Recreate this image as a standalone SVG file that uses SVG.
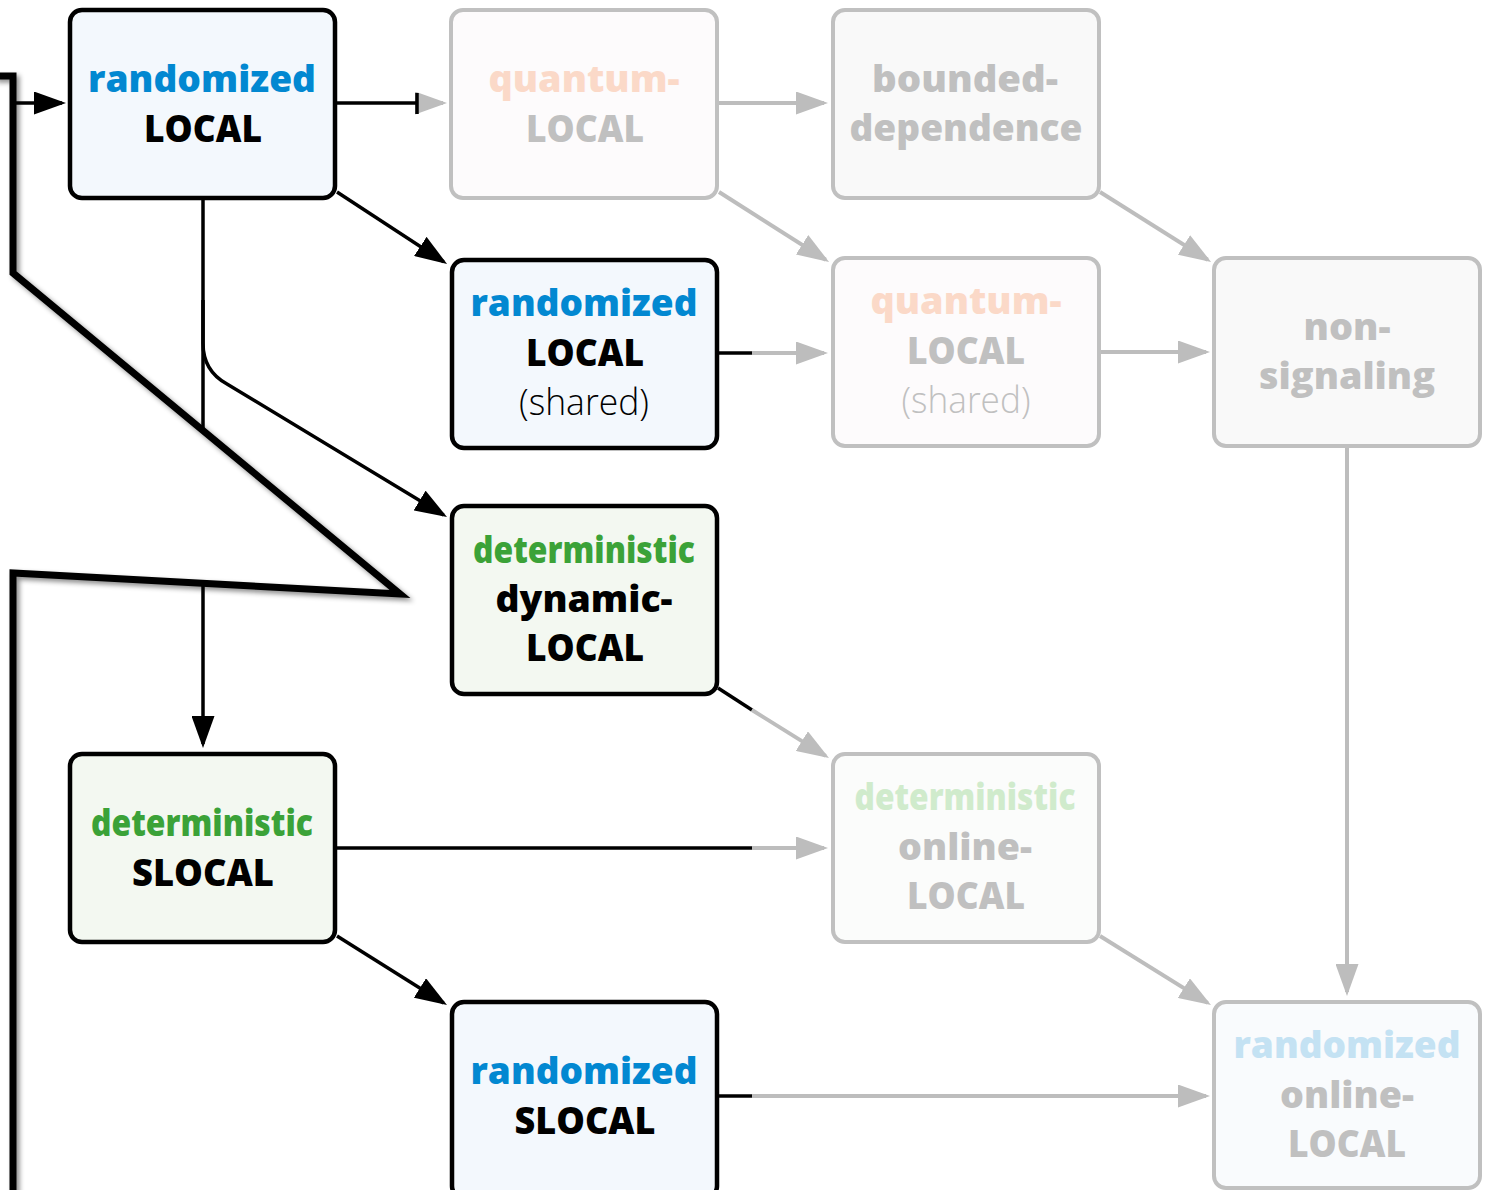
<svg xmlns="http://www.w3.org/2000/svg" width="1497" height="1190" viewBox="0 0 1497 1190">
  <style>
    .t { font-family: "Open Sans", "Noto Sans", "DejaVu Sans", sans-serif; font-weight: 800; font-size: 37px; text-anchor: middle; }
    .lt { font-weight: 300; }
    .blk { fill: #000; }
    .blue { fill: #0288d1; }
    .green { fill: #3ba238; }
    .fgray { fill: #c0c0c0; }
    .fpeach { fill: #fbd9c8; }
    .fblue { fill: #c4e2f3; }
    .fgreen { fill: #d0ebcc; }
    .box { stroke: #000; stroke-width: 4.5; }
    .fbox { stroke: #c0c0c0; stroke-width: 4; }
    .cb { fill: none; stroke: #000; stroke-width: 3.5; }
    .cg { fill: none; stroke: #bdbdbd; stroke-width: 4; }
    .ab { marker-end: url(#ahb); }
    .ag { marker-end: url(#ahg); }
  </style>
  <defs>
    <marker id="ahb" markerUnits="userSpaceOnUse" markerWidth="32" markerHeight="23" refX="28" refY="11.5" orient="auto">
      <path d="M0,0 L32,11.5 L0,23 z" fill="#000"/>
    </marker>
    <marker id="ahg" markerUnits="userSpaceOnUse" markerWidth="32" markerHeight="23" refX="28" refY="11.5" orient="auto">
      <path d="M0,0 L32,11.5 L0,23 z" fill="#bdbdbd"/>
    </marker>
    <filter id="shadow" x="-10%" y="-10%" width="130%" height="130%">
      <feDropShadow dx="3" dy="3" stdDeviation="2.5" flood-color="#000" flood-opacity="0.45"/>
    </filter>
  </defs>

  <rect width="1497" height="1190" fill="#fff"/>

  <!-- connectors -->
  <g id="connectors">
    <path class="cb ab" d="M15,103 H62"/>
    <path class="cg ag" d="M417,103 H443"/>
    <path class="cb" d="M337,103 H417"/>
    <path class="cb" d="M417,93 V114" stroke-width="3.5"/>
    <path class="cg ag" d="M719,103 H824"/>
    <path class="cb ab" d="M337,192 L443.7,261.8"/>
    <path class="cg ag" d="M719,192 L825.7,259.8"/>
    <path class="cg ag" d="M1100,192 L1207.7,259.8"/>
    <path class="cb" d="M719,353 H752"/>
    <path class="cg ag" d="M752,353 H824"/>
    <path class="cg ag" d="M1101,352 H1206"/>
    <path class="cb ab" d="M203,199 V744"/>
    <path class="cb ab" d="M203,300 V343 Q203,371 227,384 L443.6,515"/>
    <path class="cg ag" d="M1347,448 V992"/>
    <path class="cb" d="M718,688 L752,710"/>
    <path class="cg ag" d="M752,710 L825.6,755.9"/>
    <path class="cb" d="M337,848 H752"/>
    <path class="cg ag" d="M752,848 H824"/>
    <path class="cb ab" d="M337,936 L443.6,1002.9"/>
    <path class="cg ag" d="M1100,936 L1207.6,1002.9"/>
    <path class="cb" d="M719,1096 H752"/>
    <path class="cg ag" d="M752,1096 H1206"/>
  </g>

  <!-- callout outline -->
  <g id="callout">
    <path d="M13,273 L400,594 L13,573 Z" fill="#fff"/>
    <path d="M-6,76 H13 V273 L400,594 L13,573 V1200" fill="none" stroke="#000" stroke-width="7" stroke-linejoin="miter" filter="url(#shadow)"/>
  </g>

  <!-- nodes -->
  <g id="n-rand-local">
    <rect class="box" x="70" y="10" width="265" height="188" rx="12" fill="#f3f8fd"/>
    <text class="t blue" x="202" y="92" textLength="228" lengthAdjust="spacingAndGlyphs">randomized</text>
    <text class="t blk" x="203" y="142" textLength="118" lengthAdjust="spacingAndGlyphs">LOCAL</text>
  </g>
  <g id="n-quantum-local">
    <rect class="fbox" x="451" y="10" width="266" height="188" rx="12" fill="#fdfbfc"/>
    <text class="t fpeach" x="584" y="92" textLength="191" lengthAdjust="spacingAndGlyphs">quantum-</text>
    <text class="t fgray" x="585" y="142" textLength="118" lengthAdjust="spacingAndGlyphs">LOCAL</text>
  </g>
  <g id="n-bounded-dependence">
    <rect class="fbox" x="833" y="10" width="266" height="188" rx="12" fill="#f9f9f9"/>
    <text class="t fgray" x="965" y="92" textLength="186" lengthAdjust="spacingAndGlyphs">bounded-</text>
    <text class="t fgray" x="966" y="141" textLength="233" lengthAdjust="spacingAndGlyphs">dependence</text>
  </g>
  <g id="n-rand-local-shared">
    <rect class="box" x="452" y="260" width="265" height="188" rx="12" fill="#f3f8fd"/>
    <text class="t blue" x="584" y="316" textLength="227" lengthAdjust="spacingAndGlyphs">randomized</text>
    <text class="t blk" x="585" y="366" textLength="118" lengthAdjust="spacingAndGlyphs">LOCAL</text>
    <text class="t lt blk" x="584" y="415" textLength="130" lengthAdjust="spacingAndGlyphs">(shared)</text>
  </g>
  <g id="n-quantum-local-shared">
    <rect class="fbox" x="833" y="258" width="266" height="188" rx="12" fill="#fdfbfc"/>
    <text class="t fpeach" x="966" y="314" textLength="191" lengthAdjust="spacingAndGlyphs">quantum-</text>
    <text class="t fgray" x="966" y="364" textLength="118" lengthAdjust="spacingAndGlyphs">LOCAL</text>
    <text class="t lt fgray" x="966" y="413" textLength="129" lengthAdjust="spacingAndGlyphs">(shared)</text>
  </g>
  <g id="n-non-signaling">
    <rect class="fbox" x="1214" y="258" width="266" height="188" rx="12" fill="#f9f9f9"/>
    <text class="t fgray" x="1347" y="340" textLength="87" lengthAdjust="spacingAndGlyphs">non-</text>
    <text class="t fgray" x="1347" y="389" textLength="176" lengthAdjust="spacingAndGlyphs">signaling</text>
  </g>
  <g id="n-det-dynamic-local">
    <rect class="box" x="452" y="506" width="265" height="188" rx="12" fill="#f3f8f1"/>
    <text class="t green" x="584" y="563" textLength="222" lengthAdjust="spacingAndGlyphs">deterministic</text>
    <text class="t blk" x="584" y="612" textLength="177" lengthAdjust="spacingAndGlyphs">dynamic-</text>
    <text class="t blk" x="585" y="661" textLength="118" lengthAdjust="spacingAndGlyphs">LOCAL</text>
  </g>
  <g id="n-det-slocal">
    <rect class="box" x="70" y="754" width="265" height="188" rx="12" fill="#f3f8f1"/>
    <text class="t green" x="202" y="836" textLength="222" lengthAdjust="spacingAndGlyphs">deterministic</text>
    <text class="t blk" x="203" y="886" textLength="142" lengthAdjust="spacingAndGlyphs">SLOCAL</text>
  </g>
  <g id="n-det-online-local">
    <rect class="fbox" x="833" y="754" width="266" height="188" rx="12" fill="#fbfcfb"/>
    <text class="t fgreen" x="965" y="810" textLength="221" lengthAdjust="spacingAndGlyphs">deterministic</text>
    <text class="t fgray" x="965" y="860" textLength="134" lengthAdjust="spacingAndGlyphs">online-</text>
    <text class="t fgray" x="966" y="909" textLength="118" lengthAdjust="spacingAndGlyphs">LOCAL</text>
  </g>
  <g id="n-rand-slocal">
    <rect class="box" x="452" y="1002" width="265" height="196" rx="12" fill="#f3f8fd"/>
    <text class="t blue" x="584" y="1084" textLength="227" lengthAdjust="spacingAndGlyphs">randomized</text>
    <text class="t blk" x="585" y="1134" textLength="141" lengthAdjust="spacingAndGlyphs">SLOCAL</text>
  </g>
  <g id="n-rand-online-local">
    <rect class="fbox" x="1214" y="1002" width="266" height="186" rx="12" fill="#f9fbfd"/>
    <text class="t fblue" x="1347" y="1058" textLength="227" lengthAdjust="spacingAndGlyphs">randomized</text>
    <text class="t fgray" x="1347" y="1108" textLength="134" lengthAdjust="spacingAndGlyphs">online-</text>
    <text class="t fgray" x="1347" y="1157" textLength="118" lengthAdjust="spacingAndGlyphs">LOCAL</text>
  </g>
</svg>
